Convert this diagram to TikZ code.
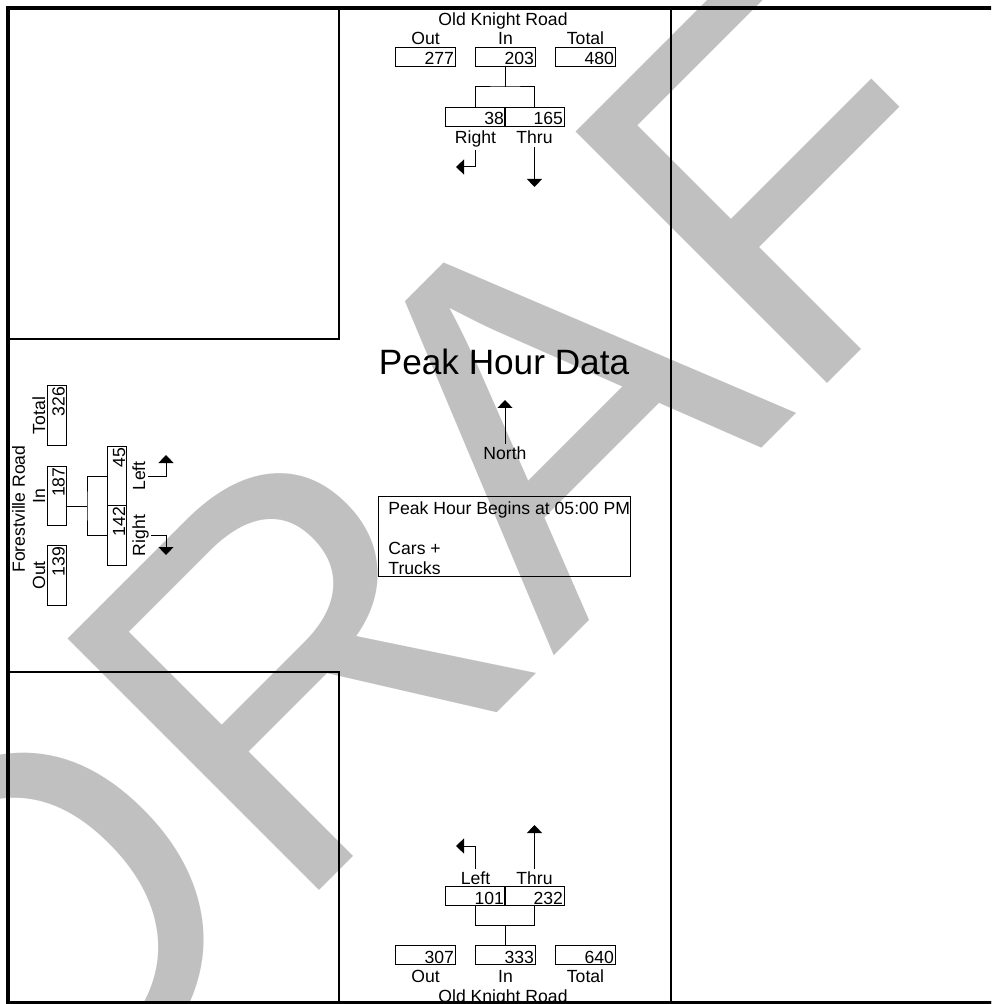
\documentclass[tikz,border=0pt]{standalone}
\usepackage{fontspec}
\setmainfont{Liberation Sans}
\usetikzlibrary{arrows.meta}
\definecolor{draftgray}{RGB}{192,192,192}

\begin{document}
\begin{tikzpicture}[x=0.5pt, y=-0.5pt,
  every node/.style={font=\fontsize{8.8}{10}\selectfont, inner sep=1pt},
  frameline/.style={line width=2pt},
  thinline/.style={line width=0.6pt},
  link/.style={line width=0.5pt},
  arr/.style={line width=0.5pt, -{Triangle[width=7.5pt,length=4pt]}},
  countbox/.style={draw, line width=0.5pt, minimum width=29.75pt, minimum height=9.5pt,
    inner sep=0pt, text width=28.5pt, align=right, text height=8pt, text depth=0pt},
  lbl/.style={anchor=base}]

% Page
\useasboundingbox (0,0) rectangle (991,1004);
\clip (0,0) rectangle (991,1004);
\fill[white] (0,0) rectangle (991,1004);

% Watermark
\node[font=\fontsize{258.5}{260}\selectfont, text=draftgray, rotate=45,
      anchor=base west, inner sep=0pt] (draft) at (25,1185) {DRAFT};

% Frame and quadrants
\draw[frameline] (8,8) rectangle (1003,1003);
\draw[thinline] (8,339) -| (339,8);
\draw[thinline] (8,672) -| (339,1003);
\draw[thinline] (671,8) -- (671,1003);

% North approach
\node[lbl] (titleN) at (503,26) {Old Knight Road};
\node[lbl] (outLblN) at (425.5,45) {Out};
\node[lbl] (inLblN) at (505.5,45) {In};
\node[lbl] (totLblN) at (585.5,45) {Total};
\node[countbox] (outN) at (425.5,57) {277};
\node[countbox] (inN) at (505.5,57) {203};
\node[countbox] (totN) at (585.5,57) {480};
\coordinate (jN) at (505.5,87);
\node[countbox] (rtBoxN) at (475.5,117) {38};
\node[countbox] (thBoxN) at (534.5,117) {165};
\node[lbl] (rtLblN) at (475.5,144) {Right};
\node[lbl] (thLblN) at (534.5,144) {Thru};
\coordinate (rtEndN) at (456,167);
\coordinate (thEndN) at (534.5,187);

\draw[link] (inN.south) -- (jN);
\draw[link] (rtBoxN.north) |- (jN) -| (thBoxN.north);
\draw[arr] (rtLblN.south) |- (rtEndN);
\draw[arr] (thLblN.south) -- (thEndN);

% West approach
\node[lbl, rotate=90] (titleW) at (25,509) {Forestville Road};
\node[lbl, rotate=90] (totLblW) at (45,415.5) {Total};
\node[lbl, rotate=90] (inLblW) at (45,496) {In};
\node[lbl, rotate=90] (outLblW) at (45,575.5) {Out};
\node[countbox, rotate=90] (totW) at (56.5,415.5) {326};
\node[countbox, rotate=90] (inW) at (56.5,496) {187};
\node[countbox, rotate=90] (outW) at (56.5,575.5) {139};
\coordinate (jW) at (87,506);
\node[countbox, rotate=90] (lfBoxW) at (117,476) {45};
\node[countbox, rotate=90] (rtBoxW) at (117,535.5) {142};
\node[lbl, rotate=90] (lfLblW) at (145,476) {Left};
\node[lbl, rotate=90] (rtLblW) at (145,535.5) {Right};
\coordinate (lfEndW) at (166,455);
\coordinate (rtEndW) at (166,555);

\draw[link] (inW.south |- jW) -- (jW);
\draw[link] (lfBoxW.north) -| (jW) |- (rtBoxW.north);
\draw[arr] (lfLblW.south) -| (lfEndW);
\draw[arr] (rtLblW.south) -| (rtEndW);

% South approach
\coordinate (lfEndS) at (456,846);
\coordinate (thEndS) at (534.5,825);
\node[lbl] (lfLblS) at (475.5,884) {Left};
\node[lbl] (thLblS) at (534.5,884) {Thru};
\node[countbox] (lfBoxS) at (475.5,896) {101};
\node[countbox] (thBoxS) at (534.5,896) {232};
\coordinate (jS) at (505.5,925);
\node[countbox] (outS) at (425.5,955) {307};
\node[countbox] (inS) at (505.5,955) {333};
\node[countbox] (totS) at (585.5,955) {640};
\node[lbl] (outLblS) at (425.5,982) {Out};
\node[lbl] (inLblS) at (505.5,982) {In};
\node[lbl] (totLblS) at (585.5,982) {Total};
\node[lbl] (titleS) at (503,1002.5) {Old Knight Road};

\draw[arr] (lfLblS.north) |- (lfEndS);
\draw[arr] (thLblS.north) -- (thEndS);
\draw[link] (lfBoxS.south) |- (jS) -| (thBoxS.south);
\draw[link] (jS) -- (inS.north);

% Centre
\node[lbl, font=\fontsize{17.6}{20}\selectfont] (peak) at (504,375) {Peak Hour Data};
\node[lbl] (northLbl) at (505,459.3) {North};
\coordinate (northEnd) at (505,400);
\draw[arr] (northLbl.north) -- (northEnd);

\node[draw, line width=0.5pt, anchor=north west, minimum width=126pt,
      minimum height=40pt, inner sep=0pt] (infoBox) at (378,496) {};
\node[anchor=base west, align=left, inner sep=0pt] (infoText) at (388,574)
  {Peak Hour Begins at 05:00 PM\\[10pt]Cars +\\Trucks};

% Bottom edge over the road name
\draw[frameline] (8,1003) -- (1003,1003);

\end{tikzpicture}
\end{document}
